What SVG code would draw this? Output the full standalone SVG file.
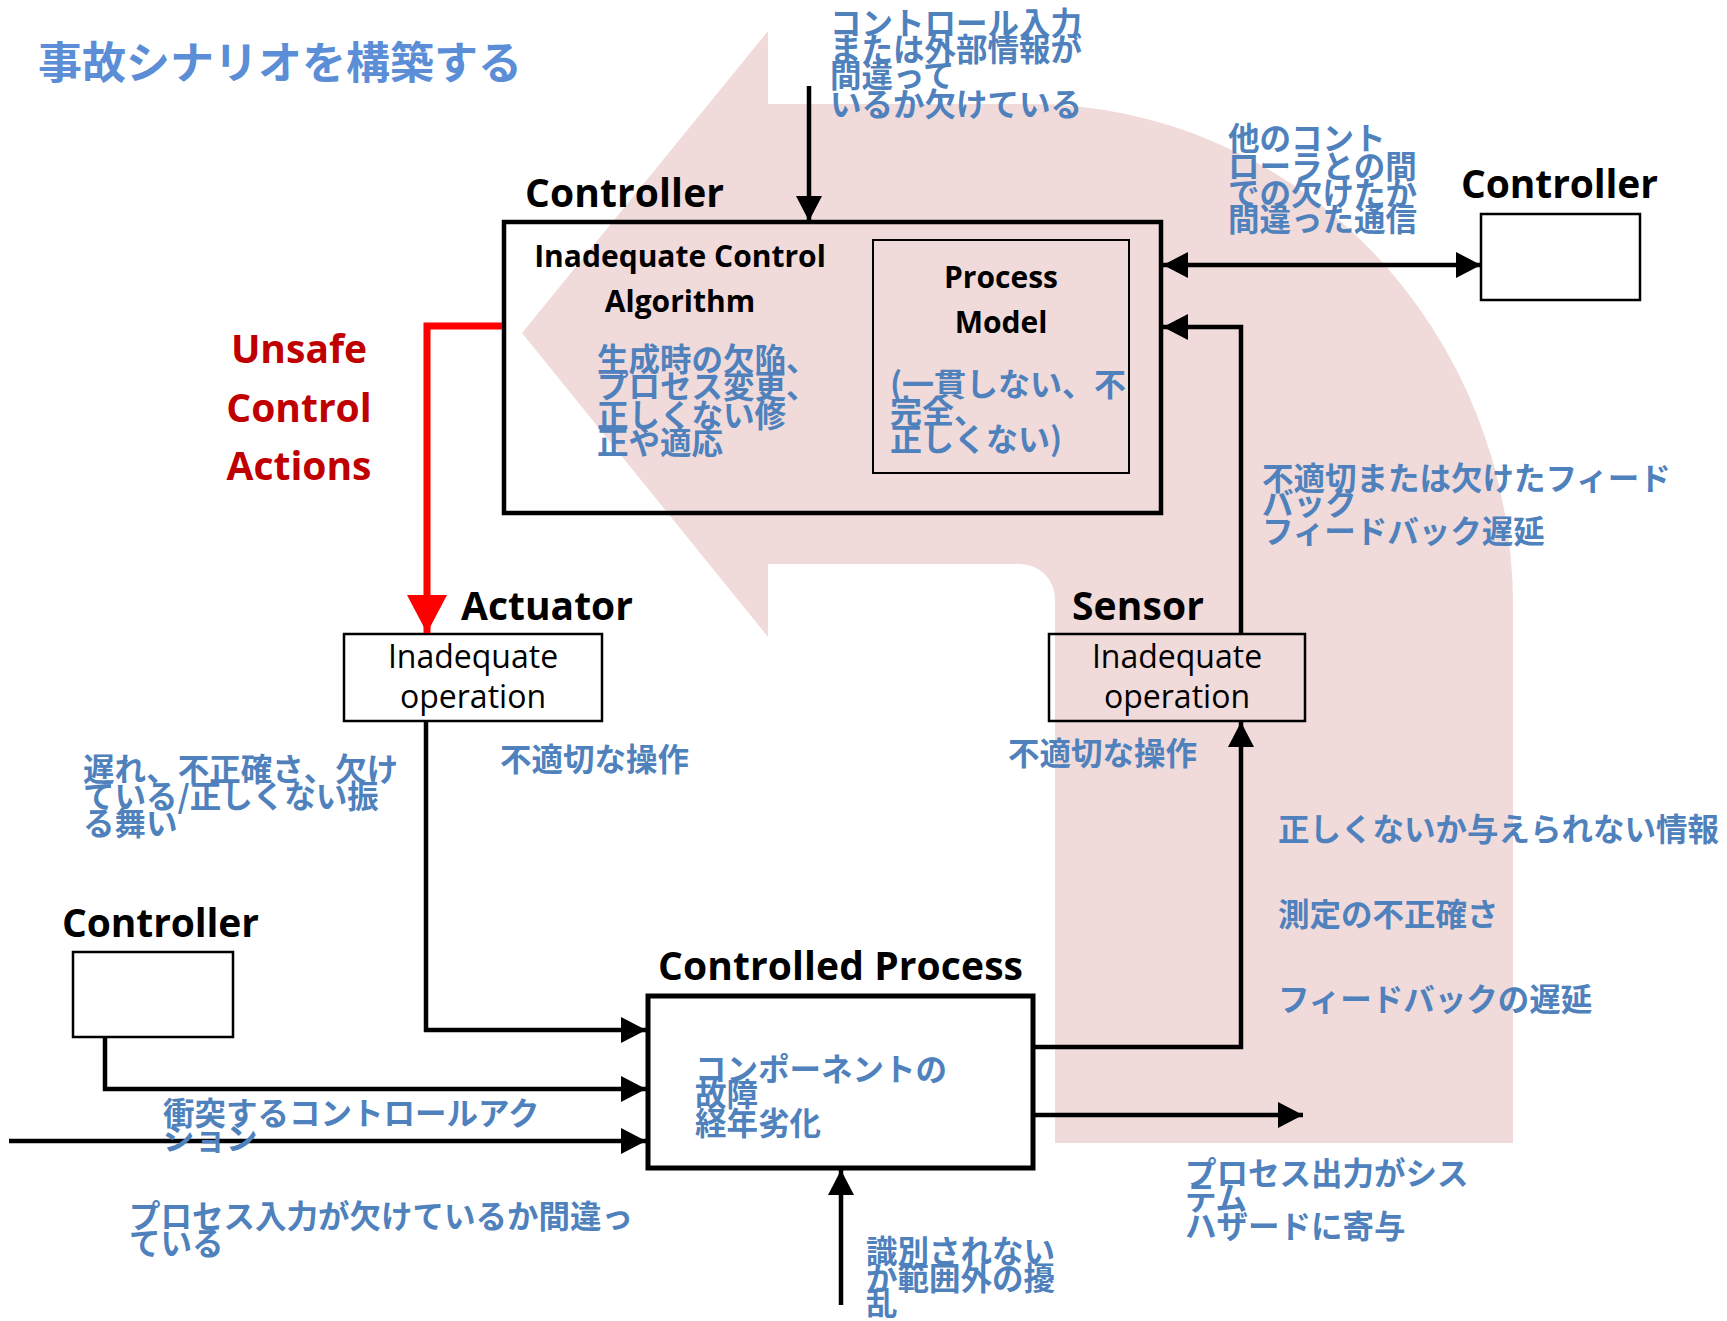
<svg xmlns="http://www.w3.org/2000/svg" width="1727" height="1321" viewBox="0 0 1727 1321">
<style>
.bg{fill:#FFFFFF}
.pink{fill:#F0DADA}
.box{fill:none;stroke:#000;stroke-width:4.5}
.sbox{fill:none;stroke:#000;stroke-width:2.5}
.conn{fill:none;stroke:#000;stroke-width:4.5}
.rconn{fill:none;stroke:#FF0000;stroke-width:7}
.lbl{font-family:"Open Sans","Liberation Sans",sans-serif;font-weight:bold;font-size:39px;fill:#000}
.inl{font-family:"Open Sans","Liberation Sans",sans-serif;font-weight:bold;font-size:30px;fill:#000}
.op{font-family:"Open Sans","Liberation Sans",sans-serif;font-size:32px;fill:#000}
.red{font-family:"Open Sans","Liberation Sans",sans-serif;font-weight:bold;font-size:39px;fill:#C00000}
.jp{font-family:"Noto Sans CJK JP","Noto Sans CJK SC",sans-serif;font-weight:bold;font-size:31.5px;fill:#4F81BD}
.title{font-family:"Noto Sans CJK JP","Noto Sans CJK SC",sans-serif;font-weight:bold;font-size:44px;fill:#5B8ED6}
</style>
<defs>
<marker id="ah" markerUnits="userSpaceOnUse" markerWidth="26" markerHeight="26" refX="25" refY="13" orient="auto-start-reverse"><path d="M0,0 L25,13 L0,26 Z" fill="#000"/></marker>
<marker id="rah" markerUnits="userSpaceOnUse" markerWidth="38" markerHeight="40" refX="38" refY="20" orient="auto"><path d="M0,0 L38,20 L0,40 Z" fill="#FF0000"/></marker>
</defs>
<rect class="bg" x="0" y="0" width="1727" height="1321"/>
<path class="pink" d="M522 333 L768 31 L768 104 L1030 104 A483 501 0 0 1 1513 605 L1513 1143 L1055 1143 L1055 599 A35 35 0 0 0 1020 564 L768 564 L768 637 Z"/>

<text class="title" x="38" y="79">事故シナリオを構築する</text>

<g id="controller-main">
<text class="lbl" x="525" y="207" textLength="199">Controller</text>
<rect class="box" x="504" y="222" width="657" height="291"/>
<text class="inl" x="680" y="267" text-anchor="middle">Inadequate Control</text>
<text class="inl" x="680" y="312" text-anchor="middle">Algorithm</text>
<text class="jp" x="597"><tspan x="597" y="371">生成時の欠陥、</tspan><tspan x="597" y="398">プロセス変更、</tspan><tspan x="597" y="427">正しくない修</tspan><tspan x="597" y="454">正や適応</tspan></text>
</g>

<g id="process-model">
<rect x="873" y="240" width="256" height="233" fill="none" stroke="#000" stroke-width="2"/>
<text class="inl" x="1001" y="288" text-anchor="middle">Process</text>
<text class="inl" x="1001" y="333" text-anchor="middle">Model</text>
<text class="jp" style="font-size:32px" x="890"><tspan x="890" y="396">(一貫しない、不</tspan><tspan x="890" y="423">完全、</tspan><tspan x="890" y="451">正しくない)</tspan></text>
</g>

<g id="controller-right">
<text class="lbl" x="1461" y="198" textLength="197">Controller</text>
<rect class="sbox" x="1481" y="214" width="159" height="86"/>
</g>

<g id="controller-left">
<text class="lbl" x="62" y="937" textLength="197">Controller</text>
<rect class="sbox" x="73" y="952" width="160" height="85"/>
</g>

<g id="actuator">
<text class="lbl" x="461" y="620" textLength="172">Actuator</text>
<rect class="sbox" x="344" y="634" width="258" height="87"/>
<text class="op" x="473" y="668" text-anchor="middle">Inadequate</text>
<text class="op" x="473" y="708" text-anchor="middle">operation</text>
</g>

<g id="sensor">
<text class="lbl" x="1072" y="620" textLength="132">Sensor</text>
<rect class="sbox" x="1049" y="634" width="256" height="87"/>
<text class="op" x="1177" y="668" text-anchor="middle">Inadequate</text>
<text class="op" x="1177" y="708" text-anchor="middle">operation</text>
</g>

<g id="controlled-process">
<text class="lbl" x="658" y="980" textLength="365">Controlled Process</text>
<rect class="box" style="stroke-width:5" x="648" y="996" width="385" height="172"/>
<text class="jp" x="695"><tspan x="695" y="1081">コンポーネントの</tspan><tspan x="695" y="1106">故障</tspan><tspan x="695" y="1135">経年劣化</tspan></text>
</g>

<g id="connectors">
<path class="conn" d="M809 86 V221" marker-end="url(#ah)"/>
<path class="conn" d="M1163 265 H1481" marker-start="url(#ah)" marker-end="url(#ah)"/>
<path class="conn" d="M1241 634 V327 H1163" marker-end="url(#ah)"/>
<path class="rconn" d="M502 326 H427 V633" marker-end="url(#rah)"/>
<path class="conn" d="M426 721 V1030 H646" marker-end="url(#ah)"/>
<path class="conn" d="M105 1037 V1089 H646" marker-end="url(#ah)"/>
<path class="conn" d="M9 1141 H646" marker-end="url(#ah)"/>
<path class="conn" d="M1035 1047 H1241 V722" marker-end="url(#ah)"/>
<path class="conn" d="M1035 1115 H1303" marker-end="url(#ah)"/>
<path class="conn" d="M841 1305 V1170" marker-end="url(#ah)"/>
</g>

<g id="labels">
<text class="red" x="299" y="363" text-anchor="middle">Unsafe</text>
<text class="red" x="299" y="422" text-anchor="middle">Control</text>
<text class="red" x="299" y="480" text-anchor="middle">Actions</text>
<text class="jp" x="830"><tspan x="830" y="35">コントロール入力</tspan><tspan x="830" y="61">または外部情報が</tspan><tspan x="830" y="87">間違って</tspan><tspan x="830" y="116">いるか欠けている</tspan></text>
<text class="jp" x="1228"><tspan x="1228" y="150">他のコント</tspan><tspan x="1228" y="178">ローラとの間</tspan><tspan x="1228" y="205">での欠けたか</tspan><tspan x="1228" y="231">間違った通信</tspan></text>
<text class="jp" x="1262"><tspan x="1262" y="490">不適切または欠けたフィード</tspan><tspan x="1262" y="515">バック</tspan><tspan x="1262" y="543">フィードバック遅延</tspan></text>
<text class="jp" x="500" y="771">不適切な操作</text>
<text class="jp" x="1008" y="765">不適切な操作</text>
<text class="jp" x="83"><tspan x="83" y="781">遅れ、不正確さ、欠け</tspan><tspan x="83" y="808">ている/正しくない振</tspan><tspan x="83" y="835">る舞い</tspan></text>
<text class="jp" x="1278" y="841">正しくないか与えられない情報</text>
<text class="jp" x="1278" y="926">測定の不正確さ</text>
<text class="jp" x="1278" y="1011">フィードバックの遅延</text>
<text class="jp" x="163"><tspan x="163" y="1125">衝突するコントロールアク</tspan><tspan x="163" y="1150">ション</tspan></text>
<text class="jp" x="129"><tspan x="129" y="1228">プロセス入力が欠けているか間違っ</tspan><tspan x="129" y="1255">ている</tspan></text>
<text class="jp" x="1185"><tspan x="1185" y="1185">プロセス出力がシス</tspan><tspan x="1185" y="1210">テム</tspan><tspan x="1185" y="1238">ハザードに寄与</tspan></text>
<text class="jp" x="866"><tspan x="866" y="1263">識別されない</tspan><tspan x="866" y="1290">か範囲外の擾</tspan><tspan x="866" y="1315">乱</tspan></text>
</g>
</svg>
